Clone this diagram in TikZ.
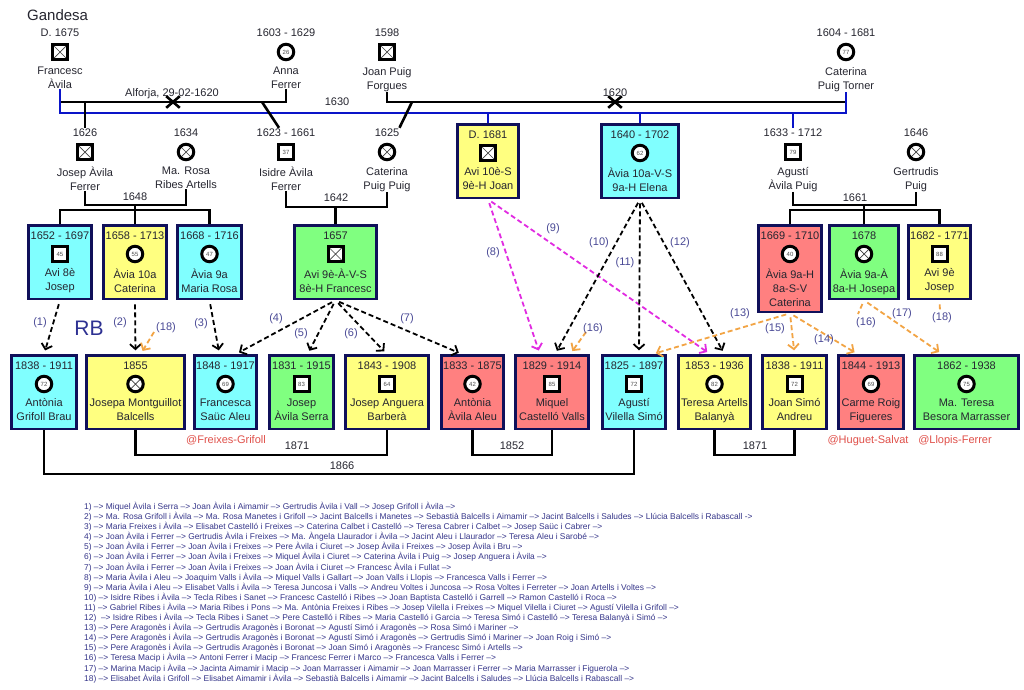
\documentclass[tikz,border=0pt]{standalone}
\usepackage{fontspec}
\setmainfont{Liberation Sans}
\usetikzlibrary{positioning, arrows.meta, shapes.misc}

\definecolor{cyanbox}{HTML}{80FFFF}
\definecolor{yellowbox}{HTML}{FFFF80}
\definecolor{greenbox}{HTML}{80FF80}
\definecolor{redbox}{HTML}{FF8080}
\definecolor{boxline}{HTML}{10105A}
\definecolor{wedblue}{HTML}{0A14C8}
\definecolor{pathmag}{HTML}{E12BE1}
\definecolor{pathorange}{HTML}{F2A444}
\definecolor{numblue}{HTML}{4A4A96}
\definecolor{rbblue}{HTML}{2E3192}
\definecolor{handlered}{HTML}{E0504A}
\definecolor{inktext}{HTML}{262630}
\definecolor{legendblue}{HTML}{36368A}

% a person without a box: date, icon, name
\newcommand{\indiv}[7]{%
  \node[yr] (#1-d) at (#2,#3-19) {#4};
  \node[#5] (#1) at (#2,#3) {#6};
  \node[who] (#1-n) at (#2,#3+15) {#7};
}
% a person in a coloured box: id, x, top, width, colour, date, icon, icon text, name
\newcommand{\card}[9]{%
  \node[card, #5, minimum width=#4-2.6, anchor=north] (#1) at (#2,#3+1.3) {};
  \node[yr] (#1-d) at (#2,#3+13) {#6};
  \node[#7] (#1-i) at (#2,#3+31) {#8};
  \node[who] (#1-n) at (#2,#3+45.5) {#9};
}

\begin{document}
\begin{tikzpicture}[x=1pt, y=-1pt, inner sep=0pt, font=\fontsize{11}{14}\selectfont, text=inktext,
  yr/.style={text height=8pt, text depth=2pt},
  who/.style={align=center, anchor=north, execute at begin node={\vphantom{À}}},
  sqic/.style={draw=black, fill=white, line width=3pt, minimum size=15pt, font=\fontsize{6}{6}\selectfont, text=black!70},
  ciic/.style={sqic, circle, minimum size=15.5pt},
  xed/.style={path picture={\draw[line width=.7pt, black!75] (path picture bounding box.north west) -- (path picture bounding box.south east) (path picture bounding box.north east) -- (path picture bounding box.south west);}},
  card/.style={draw=boxline, line width=2.6pt, minimum height=73.4},
  tall/.style={minimum height=86.4},
  cyanc/.style={fill=cyanbox}, yellowc/.style={fill=yellowbox},
  greenc/.style={fill=greenbox}, redc/.style={fill=redbox},
  wed/.style={draw=black, line width=2.6pt},
  wedb/.style={draw=wedblue, line width=2.6pt},
  wedx/.style={cross out, draw=black, line width=2.6pt, minimum width=11pt, minimum height=9pt},
  desc/.style={line width=1.8pt, dash pattern=on 5pt off 3pt, -{Straight Barb[length=5pt, width=11pt]}, shorten >=4pt, shorten <=4pt},
  descm/.style={desc, draw=pathmag},
  desco/.style={desc, draw=pathorange},
  num/.style={text=numblue},
  handle/.style={text=handlered},
  pathlist/.style={anchor=north west, align=left, text=legendblue, font=\fontsize{8.4}{10.1}\selectfont}]

  \fill[white] (0,0) rectangle (1024,689);
  \node[anchor=west, font=\fontsize{15}{15}\selectfont] (gandesa) at (27,15) {Gandesa};

  % first generations
  \indiv{francesc}{60}{52}{D. 1675}{sqic, xed}{}{Francesc\\Àvila}
  \indiv{anna}{286}{52}{1603 - 1629}{ciic}{26}{Anna\\Ferrer}
  \indiv{joanpuig}{387}{52}{1598}{sqic, xed}{}{Joan Puig\\Forgues}
  \indiv{caterinapt}{846}{52}{1604 - 1681}{ciic}{77}{Caterina\\Puig Torner}

  \indiv{josepaf}{85}{152}{1626}{sqic, xed}{}{Josep Àvila\\Ferrer}
  \indiv{marosa}{186}{152}{1634}{ciic, xed}{}{Ma. Rosa\\Ribes Artells}
  \indiv{isidre}{286}{152}{1623 - 1661}{sqic}{37}{Isidre Àvila\\Ferrer}
  \indiv{caterinapp}{387}{152}{1625}{ciic, xed}{}{Caterina\\Puig Puig}
  \card{avi10joan}{488}{122}{64}{yellowc}{D. 1681}{sqic, xed}{}{Avi 10è-S\\9è-H Joan}
  \card{avia10el}{640}{122}{80}{cyanc}{1640 - 1702}{ciic}{62}{Àvia 10a-V-S\\9a-H Elena}
  \indiv{agustiap}{793}{152}{1633 - 1712}{sqic}{79}{Agustí\\Àvila Puig}
  \indiv{gertrudis}{916}{152}{1646}{ciic, xed}{}{Gertrudis\\Puig}

  \card{avi8josep}{60}{223}{66}{cyanc}{1652 - 1697}{sqic}{45}{Avi 8è\\Josep}
  \card{avia10cat}{135}{223}{66}{yellowc}{1658 - 1713}{ciic}{55}{Àvia 10a\\Caterina}
  \card{avia9mr}{209.5}{223}{67}{cyanc}{1668 - 1716}{ciic}{47}{Àvia 9a\\Maria Rosa}
  \card{avi9fr}{335.5}{223}{85}{greenc}{1657}{sqic, xed}{}{Avi 9è-À-V-S\\8è-H Francesc}
  \card{avia9cat}{790}{223}{66}{redc, tall}{1669 - 1710}{ciic}{40}{Àvia 9a-H\\8a-S-V\\Caterina}
  \card{avia9jos}{864}{223}{72}{greenc}{1678}{ciic, xed}{}{Àvia 9a-À\\8a-H Josepa}
  \card{avi9jos}{939.5}{223}{65}{yellowc}{1682 - 1771}{sqic}{88}{Avi 9è\\Josep}

  % descendants
  \card{antoniagb}{44}{353}{68}{cyanc}{1838 - 1911}{ciic}{72}{Antònia\\Grifoll Brau}
  \card{josepamb}{135.5}{353}{101}{yellowc}{1855}{ciic, xed}{}{Josepa Montguillot\\Balcells}
  \card{francescasa}{225.5}{353}{65}{cyanc}{1848 - 1917}{ciic}{69}{Francesca\\Saüc Aleu}
  \card{josepas}{301.5}{353}{67}{greenc}{1831 - 1915}{sqic}{83}{Josep\\Àvila Serra}
  \card{josepab}{387}{353}{86}{yellowc}{1843 - 1908}{sqic}{64}{Josep Anguera\\Barberà}
  \card{antoniaaa}{472.5}{353}{65}{redc}{1833 - 1875}{ciic}{42}{Antònia\\Àvila Aleu}
  \card{miquelcv}{552}{353}{76}{redc}{1829 - 1914}{sqic}{85}{Miquel\\Castelló Valls}
  \card{agustivs}{634}{353}{66}{cyanc}{1825 - 1897}{sqic}{72}{Agustí\\Vilella Simó}
  \card{teresaab}{714.5}{353}{75}{yellowc}{1853 - 1936}{ciic}{82}{Teresa Artells\\Balanyà}
  \card{joansa}{794.5}{353}{67}{yellowc}{1838 - 1911}{sqic}{72}{Joan Simó\\Andreu}
  \card{carmerf}{871}{353}{68}{redc}{1844 - 1913}{ciic}{69}{Carme Roig\\Figueres}
  \card{materesabm}{966.5}{353}{107}{greenc}{1862 - 1938}{ciic}{75}{Ma. Teresa\\Besora Marrasser}

  % marriages at the top
  \node[wedx] (x1620a) at (173,102) {};
  \node[yr] (alforja) at (172,93) {Alforja, 29-02-1620};
  \draw[wed] (francesc-n.south) |- (x1620a.center) -| (anna-n.south);
  \node[wedx] (x1620b) at (615,102) {};
  \node[yr] (y1620) at (615,93) {1620};
  \draw[wed] (joanpuig-n.south) |- (x1620b.center) -| (caterinapt-n.south);
  \node[yr] (y1630) at (337,102) {1630};
  \coordinate (m1630) at (338,113);
  \draw[wedb] (francesc-n.south) |- (m1630) -| (caterinapt-n.south);

  \coordinate (fakid) at (262,102);
  \coordinate (jpkid) at (412,102);
  \draw[wed] (josepaf-d.north) -- (josepaf-d.north |- x1620a.center);
  \draw[wed] (fakid) -- ([xshift=-7pt]isidre-d.north);
  \draw[wed] (jpkid) -- (caterinapp-d.north east);
  \draw[wedb] (avi10joan.north) -- (avi10joan.north |- m1630);
  \draw[wedb] (avia10el.north) -- (avia10el.north |- m1630);
  \draw[wedb] (agustiap-d.north) -- (agustiap-d.north |- m1630);

  % marriages of the second row
  \node[yr] (y1648) at (135,197) {1648};
  \coordinate (m1648) at (135,205);
  \coordinate (k1648) at (135,210);
  \draw[wed] (josepaf-n.south) |- (m1648) -| (marosa-n.south);
  \draw[wed] (m1648) -- (k1648);
  \draw[wed] (avi8josep.north) |- (k1648) -| (avia9mr.north);
  \draw[wed] (avia10cat.north) -- (k1648);

  \node[yr] (y1642) at (336,198) {1642};
  \coordinate (m1642) at (335.5,207);
  \draw[wed] (isidre-n.south) |- (m1642) -| (caterinapp-n.south);
  \draw[wed] (m1642) -- (avi9fr.north);

  \node[yr] (y1661) at (855,198) {1661};
  \coordinate (m1661) at (864,205);
  \coordinate (k1661) at (864,210);
  \draw[wed] (agustiap-n.south) |- (m1661) -| (gertrudis-n.south);
  \draw[wed] (m1661) -- (k1661);
  \draw[wed] (avia9cat.north) |- (k1661) -| (avi9jos.north);
  \draw[wed] (avia9jos.north) -- (k1661);

  % marriages at the bottom
  \node[yr] (y1866) at (342,466) {1866};
  \coordinate (m1866) at (342,474);
  \draw[wed] (antoniagb.south) |- (m1866) -| (agustivs.south);
  \node[yr] (y1871a) at (297,446) {1871};
  \coordinate (m1871a) at (297,455);
  \draw[wed] (josepamb.south) |- (m1871a) -| (josepab.south);
  \node[yr] (y1852) at (512,446) {1852};
  \coordinate (m1852) at (512,455);
  \draw[wed] (antoniaaa.south) |- (m1852) -| (miquelcv.south);
  \node[yr] (y1871b) at (755,446) {1871};
  \coordinate (m1871b) at (755,455);
  \draw[wed] (teresaab.south) |- (m1871b) -| (joansa.south);

  % lines of descent
  \draw[desc] (avi8josep.south) -- (antoniagb.north);
  \draw[desc] (avia10cat.south) -- (josepamb.north);
  \draw[desc] (avia9mr.south) -- ([xshift=-6pt]francescasa.north);
  \draw[desc] (avi9fr.south) -- ([xshift=10pt]francescasa.north);
  \draw[desc] (avi9fr.south) -- ([xshift=6pt]josepas.north);
  \draw[desc] (avi9fr.south) -- (josepab.north);
  \draw[desc] (avi9fr.south) -- ([xshift=-10pt]antoniaaa.north);
  \draw[descm] (avi10joan.south) -- ([xshift=-12pt]miquelcv.north);
  \draw[descm] (avi10joan.south) -- ([xshift=-4pt]teresaab.north);
  \draw[desc] (avia10el.south) -- ([xshift=3pt]miquelcv.north);
  \draw[desc] (avia10el.south) -- ([xshift=5pt]agustivs.north);
  \draw[desc] (avia10el.south) -- ([xshift=10pt]teresaab.north);
  \draw[desco] (avia9cat.south) -- ([xshift=18pt]agustivs.north);
  \draw[desco] (avia9cat.south) -- ([xshift=-13pt]carmerf.north);
  \draw[desco] (avia9cat.south) -- (joansa.north);
  \draw[desco] (avia9jos.south) -- ([xshift=-24pt]materesabm.north);
  \coordinate (stub16a) at (858,314);
  \coordinate (stub16b) at (586,332);
  \coordinate (stub18a) at (940,311);
  \coordinate (stub18b) at (154,332);
  \draw[desco, -, shorten >=0pt] (avia9jos.south) -- (stub16a);
  \draw[desco, shorten <=0pt] (stub16b) -- ([xshift=18pt]miquelcv.north);
  \draw[desco, -, shorten >=0pt] (avi9jos.south) -- (stub18a);
  \draw[desco, shorten <=0pt] (stub18b) -- ([xshift=5pt]josepamb.north);

  \node[num] (n1) at (40,323) {(1)};
  \node[num] (n2) at (120,323) {(2)};
  \node[num] (n3) at (201,324) {(3)};
  \node[num] (n4) at (276,319) {(4)};
  \node[num] (n5) at (301,334) {(5)};
  \node[num] (n6) at (351,334) {(6)};
  \node[num] (n7) at (407,319) {(7)};
  \node[num] (n8) at (493,253) {(8)};
  \node[num] (n9) at (553,229) {(9)};
  \node[num] (n10) at (599,243) {(10)};
  \node[num] (n11) at (625,263) {(11)};
  \node[num] (n12) at (680,243) {(12)};
  \node[num] (n13) at (740,314) {(13)};
  \node[num] (n14) at (824,340) {(14)};
  \node[num] (n15) at (775,329) {(15)};
  \node[num] (n16a) at (866,323) {(16)};
  \node[num] (n16b) at (593,329) {(16)};
  \node[num] (n17) at (902,314) {(17)};
  \node[num] (n18a) at (942,318) {(18)};
  \node[num] (n18b) at (166,328) {(18)};
  \node[text=rbblue, font=\fontsize{21}{21}\selectfont] (rb) at (89,328) {RB};

  \node[handle] (h1) at (226,440) {@Freixes-Grifoll};
  \node[handle] (h2) at (868,441) {@Huguet-Salvat};
  \node[handle] (h3) at (955,441) {@Llopis-Ferrer};

  % the paths behind the dashed lines
  \node[pathlist] (paths) at (84,502) {%
    1) --> Miquel Àvila i Serra --> Joan Àvila i Aimamir --> Gertrudis Àvila i Vall --> Josep Grifoll i Àvila -->\\
    2) --> Ma. Rosa Grifoll i Àvila --> Ma. Rosa Manetes i Grifoll --> Jacint Balcells i Manetes --> Sebastià Balcells i Aimamir --> Jacint Balcells i Saludes --> Llúcia Balcells i Rabascall ->\\
    3) --> Maria Freixes i Àvila --> Elisabet Castelló i Freixes --> Caterina Calbet i Castelló --> Teresa Cabrer i Calbet --> Josep Saüc i Cabrer -->\\
    4) --> Joan Àvila i Ferrer --> Gertrudis Àvila i Freixes --> Ma. Àngela Llaurador i Àvila --> Jacint Aleu i Llaurador --> Teresa Aleu i Sarobé -->\\
    5) --> Joan Àvila i Ferrer --> Joan Àvila i Freixes --> Pere Àvila i Ciuret --> Josep Àvila i Freixes --> Josep Àvila i Bru -->\\
    6) --> Joan Àvila i Ferrer --> Joan Àvila i Freixes --> Miquel Àvila i Ciuret --> Caterina Àvila i Puig --> Josep Anguera i Àvila -->\\
    7) --> Joan Àvila i Ferrer --> Joan Àvila i Freixes --> Joan Àvila i Ciuret --> Francesc Àvila i Fullat -->\\
    8) --> Maria Àvila i Aleu --> Joaquim Valls i Àvila --> Miquel Valls i Gallart --> Joan Valls i Llopis --> Francesca Valls i Ferrer -->\\
    9) --> Maria Àvila i Aleu --> Elisabet Valls i Àvila --> Teresa Juncosa i Valls --> Andreu Voltes i Juncosa --> Rosa Voltes i Ferreter --> Joan Artells i Voltes -->\\
    10) --> Isidre Ribes i Àvila --> Tecla Ribes i Sanet --> Francesc Castelló i Ribes --> Joan Baptista Castelló i Garrell --> Ramon Castelló i Roca -->\\
    11) --> Gabriel Ribes i Àvila --> Maria Ribes i Pons --> Ma. Antònia Freixes i Ribes --> Josep Vilella i Freixes --> Miquel Vilella i Ciuret --> Agustí Vilella i Grifoll -->\\
    12)\ \ --> Isidre Ribes i Àvila --> Tecla Ribes i Sanet --> Pere Castelló i Ribes --> Maria Castelló i Garcia --> Teresa Simó i Castelló --> Teresa Balanyà i Simó -->\\
    13) --> Pere Aragonès i Àvila --> Gertrudis Aragonès i Boronat --> Agustí Simó i Aragonès --> Rosa Simó i Mariner -->\\
    14) --> Pere Aragonès i Àvila --> Gertrudis Aragonès i Boronat --> Agustí Simó i Aragonès --> Gertrudis Simó i Mariner --> Joan Roig i Simó -->\\
    15) --> Pere Aragonès i Àvila --> Gertrudis Aragonès i Boronat --> Joan Simó i Aragonès --> Francesc Simó i Artells -->\\
    16) --> Teresa Macip i Àvila --> Antoni Ferrer i Macip --> Francesc Ferrer i Marco --> Francesca Valls i Ferrer -->\\
    17) --> Marina Macip i Àvila --> Jacinta Aimamir i Macip --> Joan Marrasser i Aimamir --> Joan Marrasser i Ferrer --> Maria Marrasser i Figuerola -->\\
    18) --> Elisabet Àvila i Grifoll --> Elisabet Aimamir i Àvila --> Sebastià Balcells i Aimamir --> Jacint Balcells i Saludes --> Llúcia Balcells i Rabascall -->};
\end{tikzpicture}
\end{document}
